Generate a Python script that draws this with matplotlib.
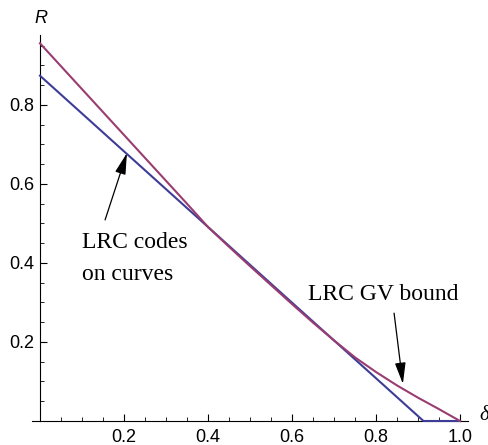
import matplotlib
matplotlib.use("Agg")
import matplotlib.pyplot as plt
import numpy as np

# LRC codes on curves (blue) -- straight drop, then flat on the axis
delta_blue = [0.0, 0.913, 1.0]
rate_blue = [0.874, 0.0, 0.0]

# LRC GV bound (red), every 0.05
delta_red = [0.00, 0.05, 0.10, 0.15, 0.20, 0.25, 0.30, 0.35, 0.40, 0.45, 0.50,
             0.55, 0.60, 0.65, 0.70, 0.75, 0.80, 0.85, 0.90, 0.95, 1.00]
rate_red = [0.956, 0.898, 0.840, 0.782, 0.724, 0.666, 0.608, 0.550, 0.491, 0.441, 0.392,
            0.344, 0.296, 0.249, 0.204, 0.161, 0.124, 0.090, 0.059, 0.030, 0.0]

xticks = [0.2, 0.4, 0.6, 0.8, 1.0]
yticks = [0.2, 0.4, 0.6, 0.8]

blue = "#3D3D99"
red = "#993D71"

fig = plt.figure(figsize=(4.89, 4.45), dpi=100)
ax = fig.add_axes([32/489, 24/445, 436/489, 386/445])
ax.set_xlim(-0.019, 1.019)
ax.set_ylim(0, 0.977)

ax.plot(delta_blue, rate_blue, color=blue, lw=1.5, clip_on=False, zorder=3)
ax.plot(delta_red, rate_red, color=red, lw=1.5, clip_on=False, zorder=3)

# mathematica-style axes through the origin
for s in ["top", "right"]:
    ax.spines[s].set_visible(False)
ax.spines["left"].set_position(("data", 0))
ax.spines["bottom"].set_position(("data", 0))
ax.spines["left"].set_linewidth(0.8)
ax.spines["bottom"].set_linewidth(0.8)

ax.set_xticks(xticks)
ax.set_xticklabels(["%.1f" % v for v in xticks])
ax.set_yticks(yticks)
ax.set_yticklabels(["%.1f" % v for v in yticks])
ax.set_xticks(np.arange(0.05, 1.0, 0.05), minor=True)
ax.set_yticks(np.arange(0.05, 0.96, 0.05), minor=True)
ax.tick_params(which="major", direction="in", length=5, width=0.8)
ax.tick_params(which="minor", direction="in", length=3, width=0.6)
ax.tick_params(axis="x", which="major", pad=5.5)
ax.tick_params(axis="y", which="major", pad=4)
for lab in ax.get_xticklabels() + ax.get_yticklabels():
    lab.set_family("Liberation Sans")
    lab.set_fontsize(13)

fig.text(40.5/489, 1 - 18.5/445, "R", family="Liberation Sans", style="italic",
         fontsize=13, ha="center", va="center")
fig.text(484/489, 1 - 415/445, "δ", family="Liberation Serif", style="italic",
         fontsize=15, ha="center", va="center")

txt = dict(family="Liberation Serif", fontsize=17, va="baseline", ha="left")
ax.text(0.10, 0.438, "LRC codes", **txt)
ax.text(0.10, 0.357, "on curves", **txt)
ax.text(0.638, 0.306, "LRC GV bound", **txt)

arrow = dict(arrowstyle="-|>,head_length=1.3,head_width=0.33", color="black",
             lw=0.9, shrinkA=0, shrinkB=0, mutation_scale=10)
ax.annotate("", xy=(0.207, 0.678), xytext=(0.155, 0.509), arrowprops=arrow)
ax.annotate("", xy=(0.864, 0.094), xytext=(0.843, 0.273), arrowprops=arrow)

fig.savefig("out.png", dpi=100)
